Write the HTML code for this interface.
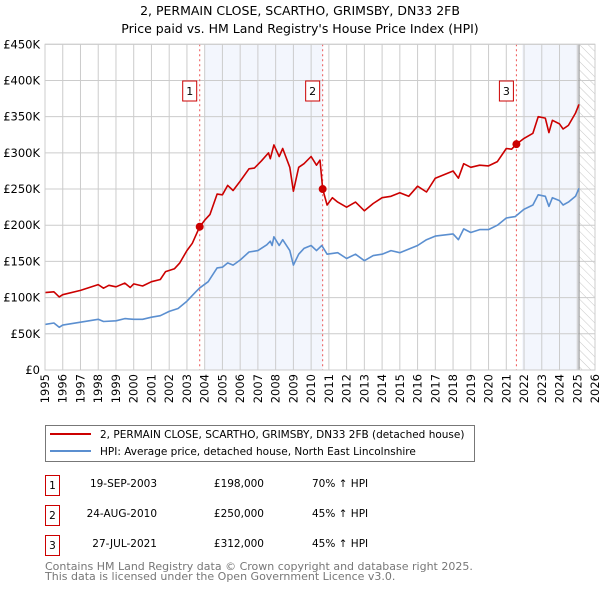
<!DOCTYPE html>
<html><head><meta charset="utf-8">
<style>
body{margin:0;background:#fff;font-family:"DejaVu Sans","Liberation Sans",sans-serif;}
svg text{font-family:"DejaVu Sans","Liberation Sans",sans-serif;}
</style></head>
<body>
<svg id="chart" width="600" height="590" viewBox="0 0 600 590" xmlns="http://www.w3.org/2000/svg">
<defs>
<pattern id="hatch" width="6" height="6" patternUnits="userSpaceOnUse" patternTransform="rotate(-45)">
<rect width="6" height="6" fill="#fff"/><line x1="0" y1="0" x2="0" y2="6" stroke="#c8c8c8" stroke-width="1"/>
</pattern>
</defs>
<text x="300" y="15" text-anchor="middle" font-size="12.5" fill="#000">2, PERMAIN CLOSE, SCARTHO, GRIMSBY, DN33 2FB</text>
<text x="300" y="33" text-anchor="middle" font-size="12.5" fill="#000">Price paid vs. HM Land Registry's House Price Index (HPI)</text>
<g id="plot"></g>
<g>
<rect x="45.5" y="425.5" width="429" height="36" fill="#fff" stroke="#777"/>
<line x1="50" y1="434" x2="91" y2="434" stroke="#cc0000" stroke-width="2"/>
<text x="100" y="438" font-size="10.5">2, PERMAIN CLOSE, SCARTHO, GRIMSBY, DN33 2FB (detached house)</text>
<line x1="50" y1="451" x2="91" y2="451" stroke="#5b8fd0" stroke-width="2"/>
<text x="100" y="455" font-size="10.5">HPI: Average price, detached house, North East Lincolnshire</text>
</g>
<g font-size="10.5">
<rect x="45.5" y="475.5" width="14" height="20" fill="#fff" stroke="#cc0000"/>
<text x="52.5" y="489" text-anchor="middle">1</text>
<text x="157" y="487" text-anchor="end">19-SEP-2003</text>
<text x="264" y="487" text-anchor="end">£198,000</text>
<text x="312" y="487">70% ↑ HPI</text>
<rect x="45.5" y="505.5" width="14" height="20" fill="#fff" stroke="#cc0000"/>
<text x="52.5" y="519" text-anchor="middle">2</text>
<text x="157" y="517" text-anchor="end">24-AUG-2010</text>
<text x="264" y="517" text-anchor="end">£250,000</text>
<text x="312" y="517">45% ↑ HPI</text>
<rect x="45.5" y="535.5" width="14" height="20" fill="#fff" stroke="#cc0000"/>
<text x="52.5" y="549" text-anchor="middle">3</text>
<text x="157" y="547" text-anchor="end">27-JUL-2021</text>
<text x="264" y="547" text-anchor="end">£312,000</text>
<text x="312" y="547">45% ↑ HPI</text>
</g>
<text x="45" y="570" font-size="11" fill="#777">Contains HM Land Registry data © Crown copyright and database right 2025.</text>
<text x="45" y="580" font-size="11" fill="#777">This data is licensed under the Open Government Licence v3.0.</text>
</svg>
<script>
const yTicks=[0,50,100,150,200,250,300,350,400,450];
const yTickLabels=["£0","£50K","£100K","£150K","£200K","£250K","£300K","£350K","£400K","£450K"];
const xYears=[1995,1996,1997,1998,1999,2000,2001,2002,2003,2004,2005,2006,2007,2008,2009,2010,2011,2012,2013,2014,2015,2016,2017,2018,2019,2020,2021,2022,2023,2024,2025,2026];
const redT=[1995,1995.5,1995.8,1996,1997,1998,1998.3,1998.6,1999,1999.5,1999.8,2000,2000.5,2001,2001.5,2001.8,2002.3,2002.6,2003,2003.3,2003.72,2004,2004.3,2004.7,2005,2005.3,2005.6,2006,2006.5,2006.8,2007.2,2007.6,2007.7,2007.9,2008.2,2008.4,2008.8,2009,2009.3,2009.6,2010,2010.3,2010.5,2010.65,2010.9,2011.2,2011.5,2012,2012.5,2013,2013.5,2014,2014.5,2015,2015.5,2016,2016.5,2017,2017.5,2018,2018.3,2018.6,2019,2019.5,2020,2020.5,2021,2021.3,2021.57,2022,2022.5,2022.8,2023.2,2023.4,2023.6,2024,2024.2,2024.5,2024.9,2025.1];
const redV=[107,108,101,104,110,118,113,117,115,120,114,119,116,122,125,136,140,148,165,175,198,207,215,243,242,255,248,261,278,279,289,300,292,311,295,306,280,247,280,285,295,283,290,250,228,238,232,225,232,220,230,238,240,245,240,254,246,265,270,275,265,285,280,283,282,288,306,305,312,320,327,350,348,328,345,340,333,338,355,367];
const blueT=[1995,1995.5,1995.8,1996,1997,1998,1998.3,1999,1999.5,2000,2000.5,2001,2001.5,2002,2002.5,2003,2003.5,2003.7,2004.2,2004.7,2005,2005.3,2005.6,2006,2006.5,2007,2007.5,2007.7,2007.8,2007.9,2008.2,2008.4,2008.8,2009,2009.3,2009.6,2010,2010.3,2010.6,2010.9,2011.5,2012,2012.5,2013,2013.5,2014,2014.5,2015,2016,2016.5,2017,2018,2018.3,2018.6,2019,2019.5,2020,2020.5,2021,2021.5,2022,2022.5,2022.8,2023.2,2023.4,2023.6,2024,2024.2,2024.5,2024.9,2025.1];
const blueV=[63,65,59,62,66,70,67,68,71,70,70,73,75,81,85,95,108,113,122,141,142,148,145,152,163,165,173,178,172,184,172,180,165,145,160,168,172,165,172,160,162,154,160,151,158,160,165,162,172,180,185,188,180,195,190,194,194,200,210,212,222,228,242,240,226,238,234,228,232,240,251];
const saleLabels=["1","2","3"];
const saleT=[2003.72,2010.65,2021.57];
const saleV=[198,250,312];
const shadeStart=[2004.0,2021.9];
const shadeEnd=[2010.65,2025.1];

const X0=45,X1=595,Y0=370,Y1=44.3;
const xs=t=>X0+(t-1995)/(2026-1995)*(X1-X0);
const ys=v=>Y0-v/450*(Y0-Y1);
const NS="http://www.w3.org/2000/svg";
const g=document.getElementById('plot');
function mk(tag,attrs,parent){const e=document.createElementNS(NS,tag);for(const k in attrs)e.setAttribute(k,attrs[k]);(parent||g).appendChild(e);return e;}

for(let i=0;i<shadeStart.length;i++){
  const r=mk('rect',{x:xs(shadeStart[i]),y:Y1,width:xs(shadeEnd[i])-xs(shadeStart[i]),height:Y0-Y1,fill:'#f3f6fd'});
  
  
}
const h=mk('rect',{x:xs(2025.1),y:Y1,width:X1-xs(2025.1),height:Y0-Y1,fill:'url(#hatch)'});



xYears.forEach(yr=>{
  const l=mk('line',{x1:xs(yr),x2:xs(yr),y1:Y1,y2:Y0,stroke:'#cccccc','stroke-width':1});
  
  
  const t=mk('text',{x:0,y:0,transform:`translate(${xs(yr)+4},${Y0+4}) rotate(-90)`,'text-anchor':'end','font-size':11.5});
  t.textContent=yr;
  
  
});
yTicks.forEach((v,i)=>{
  const l=mk('line',{x1:X0,x2:X1,y1:ys(v),y2:ys(v),stroke:'#cccccc','stroke-width':1});
  
  
  const t=mk('text',{x:X0-5,y:ys(v)+4,'text-anchor':'end','font-size':11.5});
  t.textContent=yTickLabels[i];
  
  
});
const vl=mk('line',{x1:xs(2025.1),x2:xs(2025.1),y1:Y1,y2:Y0,stroke:'#999','stroke-width':1.2});



saleT.forEach((t,i)=>{
  const l=mk('line',{x1:xs(t),x2:xs(t),y1:Y1,y2:Y0,stroke:'#ee5555','stroke-width':1,'stroke-dasharray':'2,3'});
  
  
});

function path(T,V,color,name){
  const d=T.map((t,i)=>(i?'L':'M')+xs(t).toFixed(1)+','+ys(V[i]).toFixed(1)).join('');
  const p=mk('path',{d:d,fill:'none',stroke:color,'stroke-width':1.6,'stroke-linejoin':'round'});
  
  
}
path(blueT,blueV,'#5b8fd0','hpi-line');
path(redT,redV,'#cc0000','property-price-line');

saleT.forEach((t,i)=>{
  const c=mk('circle',{cx:xs(t),cy:ys(saleV[i]),r:4,fill:'#cc0000'});
  
  
  const bx=xs(t)-17,by=81;
  const r=mk('rect',{x:bx,y:by,width:14,height:20,fill:'#fff',stroke:'#cc0000'});
  
  
  const tx=mk('text',{x:bx+7,y:by+14,'text-anchor':'middle','font-size':11});
  tx.textContent=saleLabels[i];
  
  
});
const fr=mk('rect',{x:X0,y:Y1,width:X1-X0,height:Y0-Y1,fill:'none',stroke:'#cccccc'});


</script>
</body></html>
